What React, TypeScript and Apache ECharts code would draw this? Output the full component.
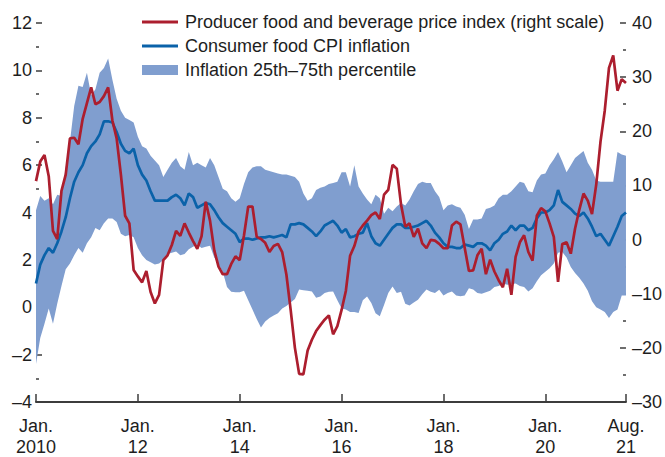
import React, { useEffect, useRef } from 'react';
import * as echarts from 'echarts';

// Monthly observations, Jan. 2010 .. Aug. 2021 (140 months)
const startYear = 2010;
const monthCount = 140;
const months: string[] = [];
for (let i = 0; i < monthCount; i++) {
  const y = startYear + Math.floor(i / 12);
  const m = (i % 12) + 1;
  months.push(`${y}-${m < 10 ? '0' + m : m}`);
}

const xTickIndex = [0, 24, 48, 72, 96, 120, 139];
const xTickLabel = ['Jan.\n2010', 'Jan.\n12', 'Jan.\n14', 'Jan.\n16', 'Jan.\n18', 'Jan.\n20', 'Aug.\n21'];

// Consumer food CPI inflation (left scale, percent)
const cpiInflation = [
  1.0, 1.8, 2.2, 2.5, 2.3, 2.7, 3.2, 3.8, 4.6, 5.3, 5.7, 6.0,
  6.5, 6.8, 7.0, 7.3, 7.85, 7.85, 7.8, 7.4, 6.9, 6.6, 6.5, 6.7,
  6.0, 5.6, 5.35, 4.9, 4.5, 4.5, 4.5, 4.5, 4.65, 4.75, 4.6, 4.3,
  4.8, 4.65, 4.2, 4.3, 4.4, 4.35, 4.1, 3.8, 3.55, 3.4, 3.25, 3.1,
  2.75, 2.9, 2.9, 2.85, 2.9, 2.95, 2.95, 3.0, 2.95, 3.0, 3.05, 2.95,
  3.5, 3.5, 3.55, 3.5, 3.35, 3.2, 3.0, 3.2, 3.45, 3.55, 3.65, 3.45,
  3.15, 3.3, 2.95, 3.0, 3.1, 3.15, 3.55, 3.0, 2.7, 2.6, 2.85, 3.1,
  3.35, 3.5, 3.5, 3.35, 3.35, 3.4, 3.45, 3.55, 3.65, 3.45, 3.15, 2.95,
  2.7, 2.55, 2.55, 2.5, 2.5, 2.65, 2.6, 2.55, 2.7, 2.7, 2.6, 2.4,
  2.7, 2.85, 3.1, 3.2, 3.45, 3.25, 3.45, 3.45, 3.25, 3.35, 3.75, 4.0,
  4.0, 4.1, 4.3, 4.95, 4.45, 4.3, 4.15, 3.95, 3.85, 4.0, 3.75, 3.4,
  3.0, 3.1, 2.85, 2.6, 3.0, 3.4, 3.85, 4.0,
];

// Producer food and beverage price index (right scale, percent)
const ppiFoodBev = [
  10.8, 14.4, 15.6, 11.7, 1.6, 0.1, 9.0, 12.0, 18.7, 18.8, 17.6, 22.3,
  25.2, 28.1, 25.0, 25.4, 26.5, 28.1, 22.0, 18.7, 12.0, 4.4, 3.0, -5.6,
  -6.8, -7.9, -5.8, -9.7, -11.8, -10.2, -3.8, -2.9, -1.0, 1.6, 0.7, 3.0,
  1.3, -0.3, -1.7, 0.6, 7.0, 3.5, -2.0, -5.0, -6.4, -6.4, -4.5, -3.1,
  -3.8, 0.75, 6.1, 6.1, 0.5, 0.1, -0.6, -2.3, -1.2, -0.8, -2.3, -6.5,
  -13.0, -20.0, -24.8, -24.9, -20.5, -18.5, -16.9, -15.8, -14.8, -14.0, -17.5, -16.0,
  -13.0, -9.5, -3.0, -1.2, 1.5, 2.6, 3.5, 4.5, 5.0, 3.8, 8.3, 9.2,
  13.8, 13.1, 6.5, 2.4, 3.0, 0.5, 2.0, -0.7, -1.6, -0.05, -0.2, -0.8,
  -1.6, -1.6, 2.6, 3.3, 2.8, -1.5, -5.8, -5.7, -2.9, -1.7, -6.4, -3.7,
  -5.9, -7.5, -8.8, -5.4, -10.2, -3.2, -0.5, 0.8, -2.3, -3.9, 4.4, 5.8,
  5.2, 3.0, 0.5, -7.8, -0.8, -0.5, -2.6, 2.0, 5.5, 8.5, 7.2, 4.7,
  10.2, 18.1, 23.8, 31.7, 34.0, 27.5, 29.6, 28.9,
];

// Inflation 25th percentile (left scale)
const bandLower = [
  -2.4, -1.3, -0.7, -0.05, -0.7, 0.15, 0.9, 1.6, 1.85, 2.2, 2.5, 2.3,
  2.7, 2.95, 3.35, 3.25, 3.55, 3.75, 3.75, 3.6, 3.1, 3.0, 3.05, 2.95,
  2.5, 2.2, 2.0, 1.9, 1.8, 1.85, 2.0, 2.25, 2.3, 2.35, 2.2, 2.25,
  2.45, 2.55, 2.65, 2.5, 2.55, 2.6, 2.1, 1.8, 1.5, 0.85, 0.65, 0.63,
  0.63, 0.7, 0.3, -0.1, -0.5, -0.85, -0.6, -0.45, -0.35, -0.25, -0.05, 0.05,
  0.2, 0.35, 0.75, 0.72, 0.7, 0.67, 0.4, 0.45, 0.6, 0.65, 0.67, 0.3,
  -0.05, -0.1, -0.2, -0.2, -0.24, 0.3, 0.45, 0.18, -0.25, -0.38, 0.1, 0.6,
  0.88, 0.6, 0.65, 0.15, 0.07, 0.2, 0.32, 0.55, 0.75, 0.65, 0.6, 0.74,
  0.5, 0.6, 0.67, 0.5, 0.46, 0.5, 0.8, 0.75, 0.6, 0.57, 0.63, 0.7,
  0.85, 0.9, 1.0, 0.95, 0.97, 1.0, 0.9, 0.85, 0.67, 0.8, 1.1, 1.35,
  1.5, 1.65, 1.85, 2.3, 2.33, 2.1, 1.7, 1.45, 1.25, 1.0, 0.7, 0.25,
  0.0, -0.1, -0.2, -0.45, -0.2, -0.1, 0.5, 0.5,
];

// Inflation 75th percentile (left scale)
const bandUpper = [
  4.1, 4.7, 4.5, 4.6, 4.35, 4.75, 4.7, 5.9, 7.0, 8.5, 9.35, 9.3,
  9.9, 8.95, 9.2, 9.9, 10.1, 10.5, 9.6, 8.8, 8.3, 8.0, 7.9, 7.8,
  7.2, 6.8, 6.7, 6.4, 6.2, 6.0, 5.5, 5.8, 6.1, 6.3, 5.95, 5.8,
  6.55, 6.0, 6.1, 6.0, 5.9, 6.3, 6.0, 5.5, 5.0, 4.9, 4.6, 4.45,
  4.6, 5.2, 5.7, 5.9, 5.95, 5.95, 5.8, 5.75, 5.7, 5.65, 5.6, 5.6,
  5.55, 5.5, 5.3, 4.8, 4.5, 4.6, 4.95, 5.05, 5.1, 5.2, 5.25, 5.3,
  5.7, 5.7, 5.1, 6.0, 5.1, 4.8, 4.55, 4.35, 4.75, 4.6, 3.95, 4.2,
  4.05, 4.25, 4.4, 4.3, 4.55, 4.9, 5.2, 5.3, 5.25, 5.25, 4.9, 4.65,
  4.1, 4.3, 4.35, 4.25, 4.2, 3.9, 3.3, 3.7, 3.7, 3.75, 4.15, 4.2,
  4.3, 4.6, 4.75, 4.75, 4.9, 5.1, 5.3, 5.25, 4.9, 4.85, 5.35, 5.6,
  5.65, 6.0, 6.25, 6.55, 6.15, 5.7, 6.0, 6.3, 6.45, 6.6, 6.1, 5.8,
  5.35, 5.3, 5.3, 5.3, 5.3, 6.55, 6.45, 6.4,
];

const NAME_PPI = 'Producer food and beverage price index (right scale)';
const NAME_CPI = 'Consumer food CPI inflation';
const NAME_BAND = 'Inflation 25th\u201375th percentile';

const RED = '#ac1e2e';
const BLUE = '#0a62a9';
const BAND = '#809ecf';
const INK = '#1e1e1e';
const AXIS = '#3c3c3c';
const FONT = "'Liberation Sans', Arial, sans-serif";
const FS = 18;
const LINE_ICON = 'path://M0,0H36V3H0Z';

const dash = (v: number) => String(v).replace('-', '\u2013');

export default function App() {
  const ref = useRef<HTMLDivElement>(null);

  useEffect(() => {
    if (!ref.current) return;
    const chart = echarts.init(ref.current, null, { renderer: 'svg' });
    const bandWidth = bandUpper.map((u, i) => +(u - bandLower[i]).toFixed(3));
    const tickSet = new Set(xTickIndex);
    const labelStyle = { color: INK, fontSize: FS, fontFamily: FONT };

    chart.setOption({
      animation: false,
      grid: { left: 36, right: 39, top: 23, bottom: 50 },
      legend: {
        orient: 'vertical',
        left: 142,
        top: 12,
        padding: 0,
        itemGap: 4,
        itemWidth: 36,
        itemHeight: 10,
        selectedMode: false,
        textStyle: { color: INK, fontSize: FS, lineHeight: 20, fontFamily: FONT, padding: [0, 0, 0, 2] },
        data: [
          { name: NAME_PPI, icon: LINE_ICON },
          { name: NAME_CPI, icon: LINE_ICON },
          { name: NAME_BAND, icon: 'rect' },
        ],
      },
      xAxis: {
        type: 'category',
        data: months,
        boundaryGap: false,
        axisLine: { show: true, onZero: false, lineStyle: { color: AXIS, width: 2 } },
        axisTick: {
          show: true,
          inside: true,
          length: 8,
          interval: (i: number) => tickSet.has(i),
          lineStyle: { color: AXIS, width: 1.5 },
        },
        axisLabel: {
          ...labelStyle,
          lineHeight: 21,
          margin: 13,
          interval: (i: number) => tickSet.has(i),
          formatter: (_v: string, i: number) => xTickLabel[xTickIndex.indexOf(i)] ?? '',
        },
        splitLine: { show: false },
      },
      yAxis: [
        {
          type: 'value',
          position: 'left',
          min: -4,
          max: 12,
          interval: 2,
          axisLine: { show: false },
          axisTick: { show: true, inside: true, length: 6, lineStyle: { color: AXIS, width: 1.5 } },
          minorTick: { show: true, splitNumber: 2, length: 3, lineStyle: { color: AXIS, width: 1.5 } },
          splitLine: { show: false },
          axisLabel: { ...labelStyle, margin: 4, formatter: dash },
        },
        {
          type: 'value',
          position: 'right',
          min: -30,
          max: 40,
          interval: 10,
          axisLine: { show: false },
          axisTick: { show: true, inside: true, length: 6, lineStyle: { color: AXIS, width: 1.5 } },
          minorTick: { show: true, splitNumber: 2, length: 3, lineStyle: { color: AXIS, width: 1.5 } },
          splitLine: { show: false },
          axisLabel: { ...labelStyle, margin: 6, formatter: dash },
        },
      ],
      series: [
        {
          name: 'band-base',
          type: 'line',
          data: bandLower,
          stack: 'band',
          stackStrategy: 'all',
          symbol: 'none',
          silent: true,
          lineStyle: { width: 0, opacity: 0 },
          z: 1,
        },
        {
          name: NAME_BAND,
          type: 'line',
          data: bandWidth,
          stack: 'band',
          stackStrategy: 'all',
          symbol: 'none',
          silent: true,
          color: BAND,
          itemStyle: { color: BAND },
          lineStyle: { width: 0, opacity: 0 },
          areaStyle: { color: BAND, opacity: 1 },
          z: 1,
        },
        {
          name: NAME_CPI,
          type: 'line',
          data: cpiInflation,
          symbol: 'none',
          color: BLUE,
          itemStyle: { color: BLUE },
          lineStyle: { color: BLUE, width: 2.7 },
          z: 3,
        },
        {
          name: NAME_PPI,
          type: 'line',
          yAxisIndex: 1,
          data: ppiFoodBev,
          symbol: 'none',
          color: RED,
          itemStyle: { color: RED },
          lineStyle: { color: RED, width: 2.7 },
          z: 4,
        },
      ],
    });

    return () => chart.dispose();
  }, []);

  return (
    <div
      ref={ref}
      style={{ position: 'fixed', left: 0, top: 0, width: 665, height: 457, background: '#ffffff' }}
    />
  );
}
